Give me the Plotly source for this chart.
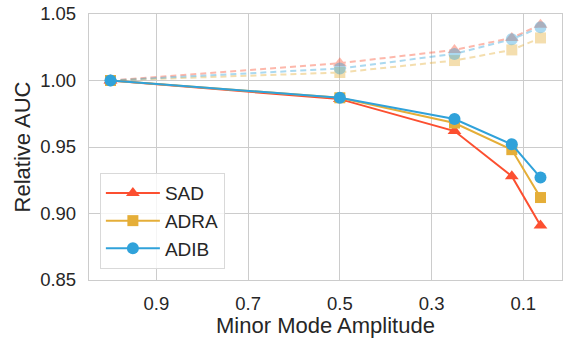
import plotly.graph_objects as go

x_vals = [1.0, 0.5, 0.25, 0.125, 0.0625]

sad_solid = [1.000, 0.986, 0.962, 0.928, 0.891]
adra_solid = [1.000, 0.987, 0.968, 0.948, 0.912]
adib_solid = [1.000, 0.987, 0.971, 0.952, 0.927]

sad_dash = [1.000, 1.013, 1.023, 1.032, 1.042]
adra_dash = [1.000, 1.006, 1.015, 1.023, 1.032]
adib_dash = [1.000, 1.009, 1.020, 1.031, 1.040]

names = ["SAD", "ADRA", "ADIB"]
colors = ["#fc4f30", "#e5ae38", "#30a2da"]
symbols = ["triangle-up", "square", "circle"]
msizes = [12, 11, 12]

x_ticks = [0.9, 0.7, 0.5, 0.3, 0.1]
x_tick_text = ["0.9", "0.7", "0.5", "0.3", "0.1"]
y_ticks = [0.85, 0.90, 0.95, 1.00, 1.05]
y_tick_text = ["0.85", "0.90", "0.95", "1.00", "1.05"]

fig = go.Figure()

for name, ys, c, s, ms in zip(names, [sad_dash, adra_dash, adib_dash], colors, symbols, msizes):
    fig.add_trace(go.Scatter(
        x=x_vals, y=ys, mode="lines+markers", showlegend=False, opacity=0.4,
        line=dict(color=c, width=2, dash="6px,4px"),
        marker=dict(symbol=s, size=ms, color=c, line=dict(width=0)),
        name=name + " (dashed)"))

for name, ys, c, s, ms in zip(names, [sad_solid, adra_solid, adib_solid], colors, symbols, msizes):
    fig.add_trace(go.Scatter(
        x=x_vals, y=ys, mode="lines+markers", name=name,
        line=dict(color=c, width=2),
        marker=dict(symbol=s, size=ms, color=c, line=dict(width=0))))

font_family = "Liberation Sans, Arial, sans-serif"

fig.update_layout(
    width=563, height=338,
    margin=dict(l=89, r=1, t=14, b=58),
    paper_bgcolor="white", plot_bgcolor="white",
    font=dict(family=font_family, color="#262626"),
    legend=dict(
        x=0.023, y=0.041, xanchor="left", yanchor="bottom",
        bgcolor="rgba(255,255,255,0.8)", bordercolor="#d9d9d9", borderwidth=1,
        font=dict(size=19, family=font_family, color="#262626"),
        itemwidth=54, tracegroupgap=0,
    ),
    xaxis=dict(
        range=[1.0469, 0.0156], tickvals=x_ticks, ticktext=x_tick_text,
        showgrid=True, gridcolor="#cccccc", gridwidth=1.25,
        showline=True, linecolor="#cccccc", linewidth=1.25, mirror=True,
        zeroline=False, ticks="outside", ticklen=7, tickcolor="rgba(0,0,0,0)",
        tickfont=dict(size=18.5, color="#262626"),
        title=dict(text="Minor Mode Amplitude", font=dict(size=22, color="#262626"), standoff=4),
        automargin=False,
    ),
    yaxis=dict(
        range=[0.85, 1.05], tickvals=y_ticks, ticktext=y_tick_text,
        showgrid=True, gridcolor="#cccccc", gridwidth=1.25,
        showline=True, linecolor="#cccccc", linewidth=1.25, mirror=True,
        zeroline=False, ticks="outside", ticklen=8, tickcolor="rgba(0,0,0,0)",
        tickfont=dict(size=18.5, color="#262626"),
        title=dict(text="Relative AUC", font=dict(size=22, color="#262626"), standoff=3),
        automargin=False,
    ),
)

fig.write_html("out.html", config={"displayModeBar": False},
               post_script="document.body.style.margin='0';document.body.style.overflow='hidden';")
